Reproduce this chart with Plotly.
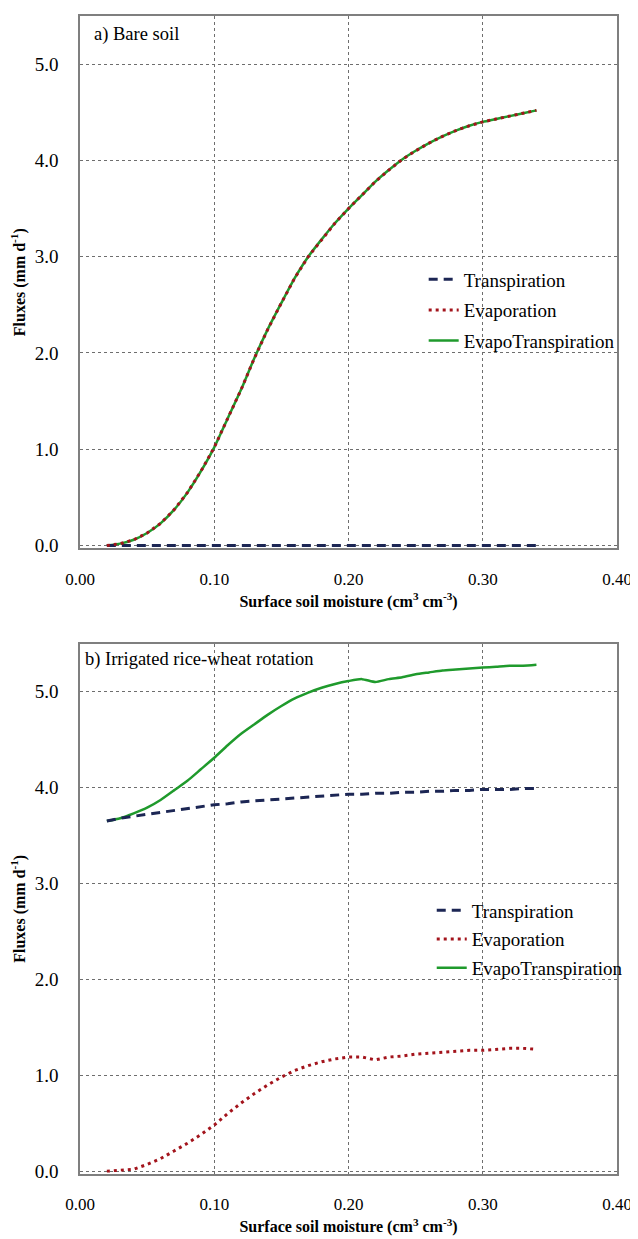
import plotly.graph_objects as go

# ---------------- data ----------------
moisture = [0.02, 0.03, 0.04, 0.05, 0.06, 0.07, 0.08, 0.09, 0.10, 0.11, 0.12, 0.13,
            0.14, 0.15, 0.16, 0.17, 0.18, 0.19, 0.20, 0.21, 0.22, 0.23, 0.24, 0.25,
            0.26, 0.27, 0.28, 0.29, 0.30, 0.31, 0.32, 0.33, 0.34]

# a) Bare soil
bare_transpiration = [0.0] * len(moisture)
bare_evaporation = [0.00, 0.02, 0.06, 0.13, 0.23, 0.37, 0.55, 0.77, 1.02, 1.32, 1.62, 1.95,
                    2.25, 2.52, 2.78, 3.00, 3.18, 3.35, 3.50, 3.64, 3.78, 3.90, 4.01, 4.10,
                    4.18, 4.25, 4.31, 4.36, 4.40, 4.43, 4.46, 4.49, 4.52]
bare_et = [0.00, 0.02, 0.06, 0.13, 0.23, 0.37, 0.55, 0.77, 1.02, 1.32, 1.62, 1.95,
           2.25, 2.52, 2.78, 3.00, 3.18, 3.35, 3.50, 3.64, 3.78, 3.90, 4.01, 4.10,
           4.18, 4.25, 4.31, 4.36, 4.40, 4.43, 4.46, 4.49, 4.52]

# b) Irrigated rice-wheat rotation
rice_transpiration = [3.65, 3.68, 3.70, 3.72, 3.74, 3.76, 3.78, 3.80, 3.82, 3.83, 3.85, 3.86,
                      3.87, 3.88, 3.89, 3.90, 3.91, 3.92, 3.93, 3.93, 3.94, 3.94, 3.95, 3.95,
                      3.96, 3.96, 3.97, 3.97, 3.98, 3.98, 3.98, 3.99, 3.99]
rice_evaporation = [0.00, 0.01, 0.02, 0.07, 0.13, 0.21, 0.29, 0.38, 0.48, 0.60, 0.71, 0.81,
                    0.90, 0.98, 1.05, 1.10, 1.14, 1.17, 1.19, 1.19, 1.16, 1.19, 1.20, 1.22,
                    1.23, 1.24, 1.25, 1.26, 1.26, 1.27, 1.28, 1.28, 1.27]
rice_et = [3.65, 3.68, 3.73, 3.79, 3.87, 3.97, 4.07, 4.19, 4.31, 4.44, 4.56, 4.66,
           4.76, 4.85, 4.93, 4.99, 5.04, 5.08, 5.11, 5.13, 5.10, 5.13, 5.15, 5.18,
           5.20, 5.22, 5.23, 5.24, 5.25, 5.26, 5.27, 5.27, 5.28]

series_names = ["Transpiration", "Evaporation", "EvapoTranspiration"]
x_ticks = [0.0, 0.1, 0.2, 0.3, 0.4]
y_ticks = [0, 1, 2, 3, 4, 5]
panel_labels = ["a) Bare soil", "b) Irrigated rice-wheat rotation"]

# ---------------- styles ----------------
FONT = "Liberation Serif, Times New Roman, serif"
C_T = "#1c2654"
C_E = "#a3141c"
C_ET = "#1f9a2c"

fig = go.Figure()

panels = [
    (bare_transpiration, bare_evaporation, bare_et, "x", "y", "legend"),
    (rice_transpiration, rice_evaporation, rice_et, "x2", "y2", "legend2"),
]
for T, E, ET, xa, ya, lg in panels:
    # ET first so the red dots of evaporation stay visible on top of it
    fig.add_trace(go.Scatter(x=moisture, y=ET, name=series_names[2], mode="lines",
                             line=dict(color=C_ET, width=2.5, shape="spline", smoothing=0.6),
                             xaxis=xa, yaxis=ya, legend=lg, legendgroup=lg + "et",
                             legendrank=3))
    fig.add_trace(go.Scatter(x=moisture, y=T, name=series_names[0], mode="lines",
                             line=dict(color=C_T, width=3, dash="9px,6px"),
                             xaxis=xa, yaxis=ya, legend=lg, legendgroup=lg + "t",
                             legendrank=1))
    fig.add_trace(go.Scatter(x=moisture, y=E, name=series_names[1], mode="lines",
                             line=dict(color=C_E, width=3, dash="3px,4px"),
                             xaxis=xa, yaxis=ya, legend=lg, legendgroup=lg + "e",
                             legendrank=2))

xt_title = dict(text="<b>Surface soil moisture (cm<sup>3</sup> cm<sup>-3</sup>)</b>",
                font=dict(family=FONT, size=16, color="black"), standoff=8)
yt_title = dict(text="<b>Fluxes (mm d<sup>-1</sup>)</b>",
                font=dict(family=FONT, size=16, color="black"), standoff=6)

axis_common = dict(showline=True, linecolor="#7f7f7f", linewidth=1.5, mirror=True,
                   showgrid=True, gridcolor="#6e6e6e", gridwidth=1, griddash="dot",
                   zeroline=False, ticks="")
xtick_font = dict(family=FONT, size=17, color="black")
ytick_font = dict(family=FONT, size=19, color="black")

top_dom = [0.5402, 1.0]
bot_dom = [0.0, 0.4580]

# the page body adds an 8px margin, so the figure is 8px smaller on each axis
fig.update_layout(
    width=630, height=1231,
    margin=dict(l=72, r=16, t=6, b=57),
    paper_bgcolor="white", plot_bgcolor="white",
    font=dict(family=FONT, color="black"),
    xaxis=dict(domain=[0, 1], anchor="y", range=[0, 0.4], tickvals=x_ticks,
               tickformat=".2f", title=xt_title, ticklabelstandoff=14,
               ticklabeloverflow="allow", tickfont=xtick_font, **axis_common),
    yaxis=dict(domain=top_dom, anchor="x", range=[-0.03, 5.5], tickvals=y_ticks,
               tickformat=".1f", title=yt_title, ticklabelstandoff=16,
               tickfont=ytick_font, **axis_common),
    xaxis2=dict(domain=[0, 1], anchor="y2", range=[0, 0.4], tickvals=x_ticks,
                tickformat=".2f", title=xt_title, ticklabelstandoff=14,
                ticklabeloverflow="allow", tickfont=xtick_font, **axis_common),
    yaxis2=dict(domain=bot_dom, anchor="x2", range=[-0.03, 5.5], tickvals=y_ticks,
                tickformat=".1f", title=yt_title, ticklabelstandoff=16,
                tickfont=ytick_font, **axis_common),
    legend=dict(x=0.640, y=0.789, xanchor="left", yanchor="top", bgcolor="rgba(0,0,0,0)",
                font=dict(family=FONT, size=19, color="black"), traceorder="grouped",
                tracegroupgap=3, itemwidth=30),
    legend2=dict(x=0.655, y=0.244, xanchor="left", yanchor="top", bgcolor="rgba(0,0,0,0)",
                 font=dict(family=FONT, size=19, color="black"), traceorder="grouped",
                 tracegroupgap=1, itemwidth=30),
    annotations=[
        dict(text=panel_labels[0], xref="x domain", yref="y domain", x=0.022, y=0.966,
             xanchor="left", yanchor="middle", showarrow=False,
             font=dict(family=FONT, size=18.5, color="black")),
        dict(text=panel_labels[1], xref="x2 domain", yref="y2 domain", x=0.006, y=0.970,
             xanchor="left", yanchor="middle", showarrow=False,
             font=dict(family=FONT, size=18.5, color="black")),
    ],
)

fig.write_html("out.html")
